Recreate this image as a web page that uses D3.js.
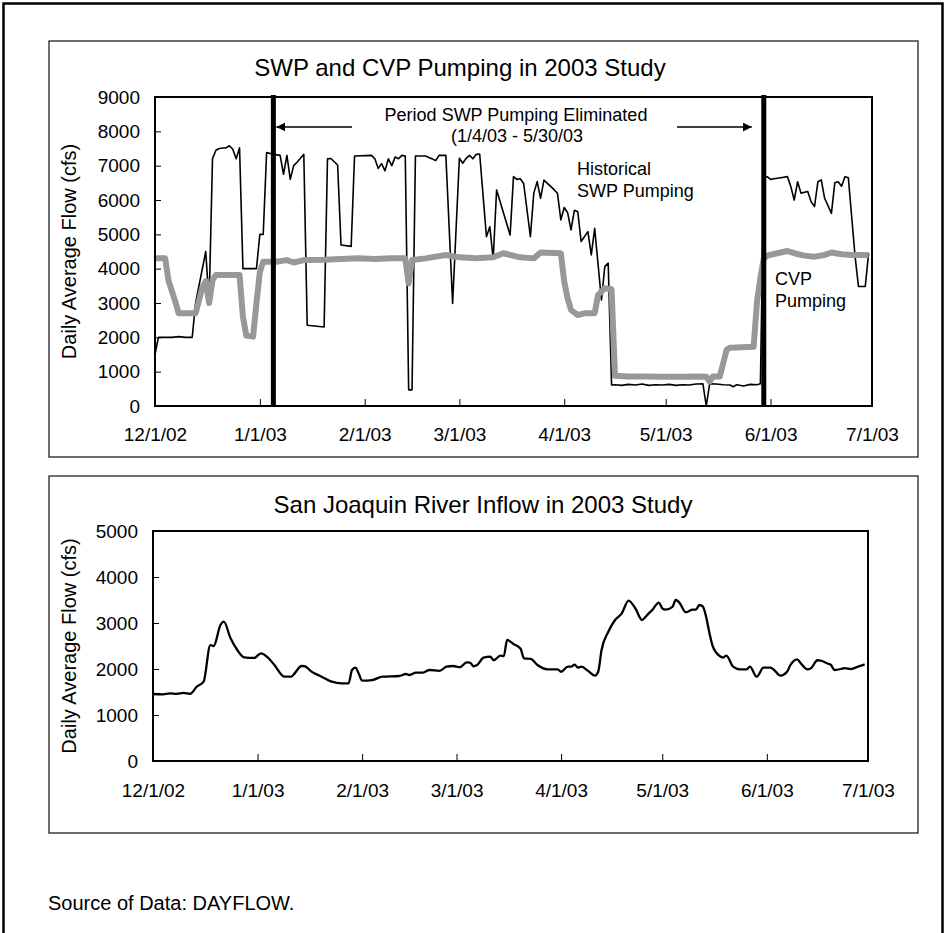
<!DOCTYPE html>
<html>
<head>
<meta charset="utf-8">
<script src="https://cdn.jsdelivr.net/npm/d3@7"></script>
<style>
  html, body { margin: 0; padding: 0; background: #fff; }
  svg { display: block; font-family: "Liberation Sans", Arial, sans-serif; }
</style>
</head>
<body>
<svg id="chart" width="947" height="933"></svg>
<script>
// ---------- DATA (day offsets from 12/1/2002) ----------
const startDate = "2002-12-01";
const endDate = "2003-07-01";

const swpDays = [0,1,5,7,9,11,12,15,16,17,18,19,21,22,23,24,25,26,30,31,32,33,35,37,38,39,40,41,42,44,45,50,51,52,54,55,58,59,64,65,66,67,68,69,70,71,72,73,74,75,76,77,80,83,84,86,88,90,91,92,93,94,95,96,98,99,100,101,105,106,107,108,109,111,112,113,114,115,118,119,120,121,122,123,124,125,126,128,129,130,132,133,134,135,136,138,140,142,144,146,148,150,152,154,156,158,160,162,163,164,166,168,170,171,172,174,176,178,179,180,181,182,183,185,187,188,189,190,191,193,194,195,196,197,198,200,201,202,203,204,205,207,208,210,211];
const swpValues = [1500,2000,2000,2020,2000,2000,3000,4500,3000,7200,7450,7500,7520,7580,7480,7200,7520,4000,4000,5000,5000,7380,7330,7300,6750,7300,6600,7000,7100,7330,2350,2300,7200,7210,7020,4690,4650,7280,7300,7200,6920,7060,6850,7200,7000,7250,7200,7300,7280,470,470,7280,7280,7150,7300,7300,2990,7215,7070,7215,7300,7200,7330,7340,4930,5220,4280,6290,4980,6680,6600,6620,6480,4930,6200,6535,6050,6580,6300,6195,5420,5780,5630,5130,5700,5660,4790,5080,4400,5175,3088,4060,4160,612,620,600,630,610,640,600,620,610,630,600,620,610,640,650,0,650,640,620,610,560,620,580,630,620,650,6630,6680,6600,6620,6650,6680,6390,6000,6530,6200,6250,5950,5806,6530,6584,6050,5612,6500,6530,6400,6680,6650,4350,3480,3480,4450];

const cvpDays = [0,3,4,6,7,12,14,15,16,17,18,25,26,27,29,30,31,32,36,39,41,44,50,55,60,65,70,74,75,76,80,86,90,95,100,103,108,112,114,120,121,122,123,125,127,130,131,133,135,136,140,145,150,156,160,163,164,165,167,169,170,177,178,179,180,181,184,187,189,192,195,198,200,203,206,211];
const cvpValues = [4300,4300,3650,3040,2700,2700,3450,3640,3000,3670,3816,3816,2600,2050,2020,3000,3900,4200,4200,4250,4180,4250,4260,4280,4300,4280,4300,4300,3570,4250,4300,4400,4330,4300,4330,4450,4330,4300,4470,4450,3620,3137,2800,2650,2700,2700,3233,3430,3400,880,860,860,855,855,860,850,710,860,860,1630,1700,1727,3040,3720,4300,4380,4450,4515,4450,4380,4350,4400,4470,4420,4400,4400];

const sjrDays = [0,3,5,7,9,11,13,15,17,18,20,21,23,25,27,30,32,34,36,39,41,42,44,45,47,50,53,56,58,59,60,61,62,65,68,73,75,76,78,80,82,85,87,89,91,93,94,95,96,98,100,101,103,104,105,107,109,110,112,114,117,120,121,123,124,125,126,127,129,131,132,133,135,137,139,141,143,145,146,147,148,150,151,152,154,155,156,158,160,161,162,163,164,165,166,168,169,170,172,174,176,177,179,181,183,184,186,188,189,191,192,194,195,197,198,200,201,202,204,205,207,209,211];
const sjrValues = [1457,1450,1470,1460,1480,1460,1615,1724,2520,2500,2957,3028,2667,2413,2254,2240,2341,2254,2087,1833,1833,1906,2065,2060,1942,1833,1724,1688,1690,1978,2029,1900,1746,1760,1833,1848,1891,1870,1920,1920,1978,1960,2050,2065,2040,2145,2140,2060,2080,2247,2270,2190,2290,2280,2630,2540,2440,2232,2220,2087,1993,1993,1940,2050,2050,2095,2030,2050,1960,1855,1940,2413,2811,3065,3210,3485,3320,3065,3130,3210,3280,3441,3320,3290,3350,3500,3450,3232,3290,3290,3391,3360,3137,2776,2485,2283,2250,2290,2050,1993,1990,2050,1833,2029,2029,1990,1855,1940,2087,2210,2130,1993,2010,2190,2180,2120,2090,1978,2000,2020,2000,2050,2100];

const topYTicks = [0,1000,2000,3000,4000,5000,6000,7000,8000,9000];
const botYTicks = [0,1000,2000,3000,4000,5000];
const periodDates = ["2003-01-05","2003-05-30"];

const topTitle = "SWP and CVP Pumping in 2003 Study";
const botTitle = "San Joaquin River Inflow in 2003 Study";
const yTitle = "Daily Average Flow (cfs)";
const periodText1 = "Period SWP Pumping Eliminated";
const periodText2 = "(1/4/03 - 5/30/03";
const swpLabel = ["Historical", "SWP Pumping"];
const cvpLabel = ["CVP", "Pumping"];
const sourceText = "Source of Data: DAYFLOW.";

// ---------- SETUP ----------
const parse = d3.utcParse("%Y-%m-%d");
const t0 = parse(startDate), t1 = parse(endDate);
const toDate = d => d3.utcDay.offset(t0, d);
const zip = (ds, vs) => ds.map((d, i) => ({ date: toDate(d), value: vs[i] }));
const swp = zip(swpDays, swpValues);
const cvp = zip(cvpDays, cvpValues);
const sjr = zip(sjrDays, sjrValues);
const monthTicks = d3.utcMonth.range(t0, d3.utcDay.offset(t1, 1));
const fmt = d3.utcFormat("%-m/%-d/%y");

const svg = d3.select("#chart");

// outer frame
svg.append("rect").attr("x", 3.5).attr("y", 3.5).attr("width", 939).attr("height", 1000)
  .attr("fill", "none").attr("stroke", "#000").attr("stroke-width", 2.5);

// chart boxes
svg.append("rect").attr("x", 49).attr("y", 41).attr("width", 869).attr("height", 416)
  .attr("fill", "none").attr("stroke", "#222").attr("stroke-width", 1.3);
svg.append("rect").attr("x", 49).attr("y", 476).attr("width", 869).attr("height", 357)
  .attr("fill", "none").attr("stroke", "#222").attr("stroke-width", 1.3);

function drawAxes(g, x, y, yTicks, xPad, titleText, titleX, titleY) {
  const [x0, x1] = x.range();
  const [yb, yt] = y.range();
  const ax = g.append("g").attr("transform", `translate(0,${yb})`)
    .call(d3.axisBottom(x).tickValues(monthTicks).tickFormat(fmt).tickSize(-7).tickPadding(xPad));
  const ay = g.append("g").attr("transform", `translate(${x0},0)`)
    .call(d3.axisLeft(y).tickValues(yTicks).tickFormat(d3.format("d")).tickSize(-6).tickPadding(15));
  [ax, ay].forEach(a => {
    a.select(".domain").remove();
    a.selectAll("line").attr("stroke", "#000").attr("stroke-width", 1);
    a.selectAll("text").attr("font-size", 19).attr("fill", "#000")
      .attr("font-family", '"Liberation Sans", Arial, sans-serif');
  });
  // y title
  g.append("text").attr("transform", `translate(76,${(yb + yt) / 2}) rotate(-90)`)
    .attr("text-anchor", "middle").attr("font-size", 20).text(yTitle);
  // chart title
  g.append("text").attr("x", titleX).attr("y", titleY).attr("text-anchor", "middle")
    .attr("font-size", 24).text(titleText);
}

// ---------- TOP CHART ----------
const gTop = svg.append("g");
const xTop = d3.scaleUtc().domain([t0, t1]).range([155, 872]);
const yTop = d3.scaleLinear().domain([0, 9000]).range([406, 97]);

drawAxes(gTop, xTop, yTop, topYTicks, 22, topTitle, 460, 76);

const lineTop = d3.line().x(d => xTop(d.date)).y(d => yTop(d.value));
gTop.append("path").datum(swp).attr("d", lineTop)
  .attr("fill", "none").attr("stroke", "#000").attr("stroke-width", 1.6).attr("stroke-linejoin", "round");
gTop.append("path").datum(cvp).attr("d", lineTop)
  .attr("fill", "none").attr("stroke", "#989898").attr("stroke-width", 6).attr("stroke-linejoin", "round");

// period lines
periodDates.forEach(p => {
  const xp = xTop(parse(p));
  gTop.append("line").attr("x1", xp).attr("x2", xp).attr("y1", yTop(9000) - 2).attr("y2", yTop(0) + 1)
    .attr("stroke", "#000").attr("stroke-width", 5);
});

// plot frame
gTop.append("rect").attr("x", 155).attr("y", 97).attr("width", 717).attr("height", 309)
  .attr("fill", "none").attr("stroke", "#000").attr("stroke-width", 2);

// arrows
const defs = svg.append("defs");
defs.append("marker").attr("id", "ah").attr("viewBox", "0 0 10 10").attr("refX", 10).attr("refY", 5)
  .attr("markerWidth", 9).attr("markerHeight", 9).attr("markerUnits", "userSpaceOnUse").attr("orient", "auto")
  .append("path").attr("d", "M0,0 L10,5 L0,10 Z").attr("fill", "#000");
const xL = xTop(parse(periodDates[0])), xR = xTop(parse(periodDates[1]));
gTop.append("line").attr("x1", 352).attr("x2", xL + 3).attr("y1", 127).attr("y2", 127)
  .attr("stroke", "#000").attr("stroke-width", 1.5).attr("marker-end", "url(#ah)");
gTop.append("line").attr("x1", 677).attr("x2", xR - 12).attr("y1", 127).attr("y2", 127)
  .attr("stroke", "#000").attr("stroke-width", 1.5).attr("marker-end", "url(#ah)");

// annotations
gTop.append("text").attr("x", 516).attr("y", 121).attr("text-anchor", "middle").attr("font-size", 18).text(periodText1);
gTop.append("text").attr("x", 517).attr("y", 142).attr("text-anchor", "middle").attr("font-size", 18).text(periodText2);
swpLabel.forEach((t, i) => gTop.append("text").attr("x", 577).attr("y", 175 + i * 22).attr("font-size", 18).text(t));
cvpLabel.forEach((t, i) => gTop.append("text").attr("x", 775).attr("y", 285 + i * 22).attr("font-size", 18).text(t));

// ---------- BOTTOM CHART ----------
const gBot = svg.append("g");
const xBot = d3.scaleUtc().domain([t0, t1]).range([153, 868]);
const yBot = d3.scaleLinear().domain([0, 5000]).range([761, 531]);

drawAxes(gBot, xBot, yBot, botYTicks, 23, botTitle, 483, 513);

const lineBot = d3.line().curve(d3.curveMonotoneX).x(d => xBot(d.date)).y(d => yBot(d.value));
gBot.append("path").datum(sjr).attr("d", lineBot)
  .attr("fill", "none").attr("stroke", "#000").attr("stroke-width", 2.3).attr("stroke-linejoin", "round");

gBot.append("rect").attr("x", 153).attr("y", 531).attr("width", 715).attr("height", 230)
  .attr("fill", "none").attr("stroke", "#000").attr("stroke-width", 2);

// source
svg.append("text").attr("x", 48).attr("y", 910).attr("font-size", 20).text(sourceText);
</script>
</body>
</html>
